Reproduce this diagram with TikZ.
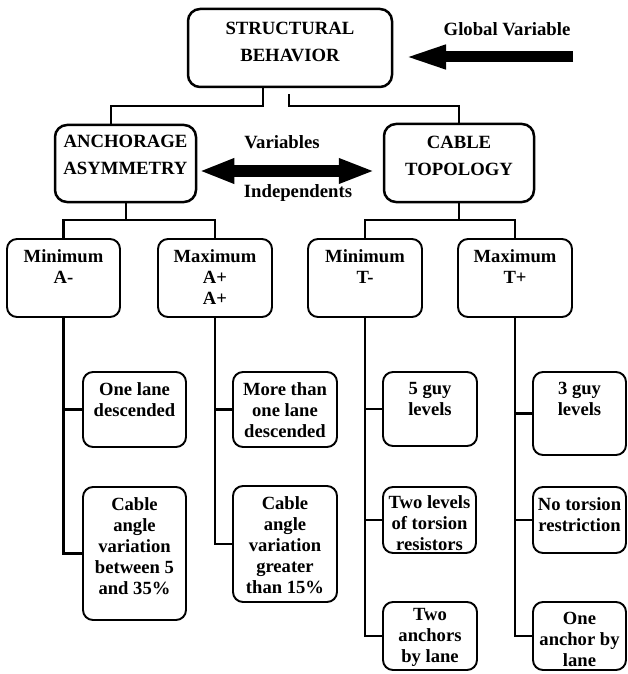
\documentclass[tikz,border=0pt]{standalone}
\usepackage{fontspec}
\setmainfont{Liberation Serif}
\usetikzlibrary{arrows.meta}
\tikzset{
  x=1pt, y=-1pt,
  topbox/.style={draw, line width=2.5pt, rounded corners=12pt, inner sep=0pt},
  subbox/.style={draw, line width=1.9pt, rounded corners=10pt, inner sep=0pt},
  toptxt/.style={inner sep=0pt, align=center, anchor=north, yshift=-14pt, font=\bfseries\fontsize{18.7}{27}\selectfont},
  subtxt/.style={inner sep=0pt, align=center, anchor=north, yshift=-11pt, font=\bfseries\fontsize{18.6}{21}\selectfont},
  free/.style={inner sep=0pt, anchor=base, font=\bfseries\fontsize{18.7}{21}\selectfont},
  conn/.style={line width=2.4pt},
  bigarrow/.style={line width=11pt, -{Triangle[width=21pt,length=44pt]}},
  dblarrow/.style={line width=12pt, {Triangle[width=23pt,length=35pt]}-{Triangle[width=23pt,length=36pt]}},
}
\begin{document}
\begin{tikzpicture}
\useasboundingbox (0,0) rectangle (627,674);
% top level
\node[topbox, minimum width=204pt, minimum height=78pt] (top) at (290,48) {};
\node[toptxt] (top-t) at (top.north) {STRUCTURAL\\BEHAVIOR};
\node[topbox, minimum width=141pt, minimum height=77pt] (anch) at (125.5,163.5) {};
\node[toptxt, yshift=3pt] (anch-t) at (anch.north) {ANCHORAGE\\ASYMMETRY};
\node[topbox, minimum width=150pt, minimum height=78pt] (cable) at (459,163) {};
\node[toptxt, yshift=1pt] (cable-t) at (cable.north) {CABLE\\TOPOLOGY};
% second level
\node[subbox, minimum width=113pt, minimum height=78pt] (minA) at (63.5,278) {};
\node[subtxt] (minA-t) at (minA.north) {Minimum\\A-};
\node[subbox, minimum width=114pt, minimum height=78pt] (maxA) at (215,278) {};
\node[subtxt] (maxA-t) at (maxA.north) {Maximum\\A+\\A+};
\node[subbox, minimum width=114pt, minimum height=78pt] (minT) at (365,278) {};
\node[subtxt] (minT-t) at (minT.north) {Minimum\\T-};
\node[subbox, minimum width=114pt, minimum height=78pt] (maxT) at (515,278) {};
\node[subtxt] (maxT-t) at (maxT.north) {Maximum\\T+};
% leaves
\node[subbox, minimum width=103pt, minimum height=75pt] (a1) at (134.5,409.5) {};
\node[subtxt] (a1-t) at (a1.north) {One lane\\descended};
\node[subbox, minimum width=103pt, minimum height=133pt] (a2) at (134.5,553.5) {};
\node[subtxt] (a2-t) at (a2.north) {Cable\\angle\\variation\\between 5\\and 35\%};
\node[subbox, minimum width=104pt, minimum height=75pt] (b1) at (285,409.5) {};
\node[subtxt] (b1-t) at (b1.north) {More than\\one lane\\descended};
\node[subbox, minimum width=104pt, minimum height=116pt] (b2) at (285,544) {};
\node[subtxt] (b2-t) at (b2.north) {Cable\\angle\\variation\\greater\\than 15\%};
\node[subbox, minimum width=94pt, minimum height=74pt] (c1) at (430,409) {};
\node[subtxt] (c1-t) at (c1.north) {5 guy\\levels};
\node[subbox, minimum width=93pt, minimum height=66pt] (c2) at (429.5,520) {};
\node[subtxt, yshift=2pt] (c2-t) at (c2.north) {Two levels\\of torsion\\resistors};
\node[subbox, minimum width=94pt, minimum height=68pt] (c3) at (430,636) {};
\node[subtxt, yshift=4pt] (c3-t) at (c3.north) {Two\\anchors\\by lane};
\node[subbox, minimum width=93pt, minimum height=83pt] (d1) at (579.5,413.5) {};
\node[subtxt] (d1-t) at (d1.north) {3 guy\\levels};
\node[subbox, minimum width=93pt, minimum height=66pt] (d2) at (579.5,520) {};
\node[subtxt] (d2-t) at (d2.north) {No torsion\\restriction};
\node[subbox, minimum width=93pt, minimum height=68pt] (d3) at (579.5,636) {};
\node[subtxt] (d3-t) at (d3.north) {One\\anchor by\\lane};
% free labels
\node[free] (gv) at (507,36) {Global Variable};
\node[free] (vars) at (282,148) {Variables};
\node[free] (indep) at (298,197) {Independents};
% arrows
\coordinate (gvtail) at (573,57);
\coordinate (gvtip) at (402,57);
\draw[bigarrow] (gvtail) -- (gvtip);
\draw[dblarrow] ([xshift=2pt]anch.east |- 0,171) -- ([xshift=-8pt]cable.west |- 0,171);
% tree connectors
\coordinate (jl) at (263,106);
\coordinate (jr) at (289,106);
\draw[conn] (top.south -| jl) -- (jl) -| ([xshift=-14.5pt]anch.north);
\draw[conn] ([yshift=-6pt]top.south -| jr) -- (jr) -| (cable.north);
\coordinate (ja) at (126,220);
\coordinate (jc) at (459,220);
\draw[conn] (anch.south -| ja) -- (ja);
\draw[conn] (minA.north) |- (ja) -| (maxA.north);
\draw[conn] (cable.south) -- (jc);
\draw[conn] (minT.north) |- (jc) -| (maxT.north);
% leaf connectors
\draw[conn] (minA.south) |- (a1.west);
\draw[conn] (minA.south) |- (a2.west);
\draw[conn] (maxA.south) |- (b1.west);
\draw[conn] (maxA.south) |- (b2.west);
\draw[conn] (minT.south) |- (c1.west);
\draw[conn] (minT.south) |- (c2.west);
\draw[conn] (minT.south) |- (c3.west);
\draw[conn] (maxT.south) |- (d1.west);
\draw[conn] (maxT.south) |- (d2.west);
\draw[conn] (maxT.south) |- (d3.west);
\end{tikzpicture}
\end{document}
